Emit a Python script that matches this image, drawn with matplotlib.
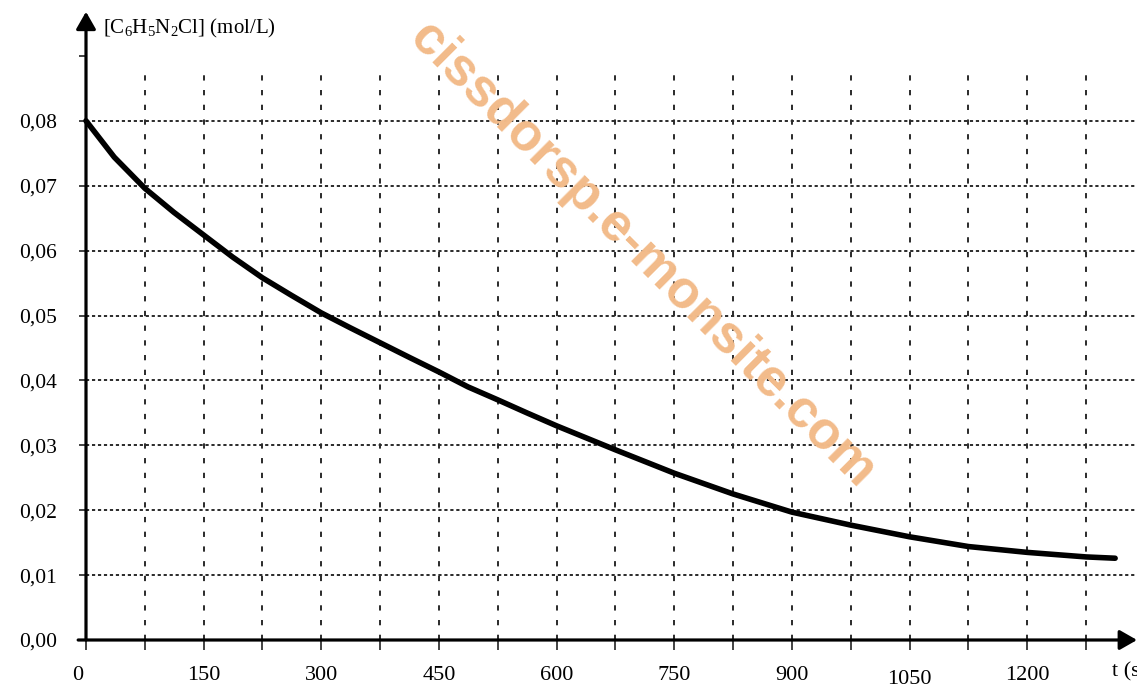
import matplotlib
matplotlib.use('Agg')
import matplotlib.pyplot as plt
from matplotlib.transforms import ScaledTranslation

plt.rcParams['font.family'] = ['Liberation Serif', 'DejaVu Serif']
plt.rcParams['mathtext.fontset'] = 'custom'
plt.rcParams['mathtext.rm'] = 'Liberation Serif'
plt.rcParams['mathtext.it'] = 'Liberation Serif:italic'
plt.rcParams['lines.scale_dashes'] = False

# ---- data ----
time_s = [0, 36, 75, 112, 150, 187, 225, 262, 300, 337, 375, 413, 450, 487,
          525, 562, 600, 675, 750, 825, 900, 975, 1050, 1125, 1200, 1275, 1312]
conc = [0.0800, 0.0744, 0.0696, 0.0659, 0.0624, 0.0590, 0.0558, 0.0531,
        0.0504, 0.0481, 0.0458, 0.0435, 0.0413, 0.0390, 0.0370, 0.0350,
        0.0330, 0.0293, 0.0257, 0.0225, 0.0197, 0.0177, 0.0159, 0.0144,
        0.0135, 0.0128, 0.0126]

x_ticks = [0, 75, 150, 225, 300, 375, 450, 525, 600, 675, 750, 825, 900,
           975, 1050, 1125, 1200, 1275]
x_tick_labels = ['0', '', '150', '', '300', '', '450', '', '600', '', '750', '',
                 '900', '', '1050', '', '1200', '']
x_grid = [75, 150, 225, 300, 375, 450, 525, 600, 675, 750, 825, 900,
          975, 1050, 1125, 1200, 1275]
y_ticks = [0.00, 0.01, 0.02, 0.03, 0.04, 0.05, 0.06, 0.07, 0.08, 0.09]
y_tick_labels = ['0,00', '0,01', '0,02', '0,03', '0,04', '0,05', '0,06',
                 '0,07', '0,08', '']
y_grid = [0.01, 0.02, 0.03, 0.04, 0.05, 0.06, 0.07, 0.08]

y_title = '[C$_6$H$_5$N$_2$Cl] (mol/L)'
x_title = 't (s)'
watermark = 'cissdorsp.e-monsite.com'

# ---- figure ----
W, H = 1137, 689
fig = plt.figure(figsize=(W / 100, H / 100), dpi=100)
fig.patch.set_facecolor('white')
x0, y0 = 86, 49
px_per_s = 0.7844
px_per_c = 6490
ax = fig.add_axes([x0 / W, y0 / H, (W - x0) / W, (H - y0) / H])
xmax = (W - x0) / px_per_s
ymax = (H - y0) / px_per_c
ax.set_xlim(0, xmax)
ax.set_ylim(0, ymax)
for s in ax.spines.values():
    s.set_visible(False)
ax.patch.set_alpha(0)

grid_col = '#2a2a2a'
ax.hlines(y_grid, 0, xmax, colors=grid_col, linestyles=[(0, (2.3, 2.0))],
          lw=1.4, clip_on=False, zorder=1)
ax.vlines(x_grid, 0, 0.0878, colors=grid_col, linestyles=[(0, (3.8, 6.8))],
          lw=1.4, clip_on=False, zorder=1)

ax.set_xticks(x_ticks)
ax.set_xticklabels(x_tick_labels)
ax.set_yticks(y_ticks)
ax.set_yticklabels(y_tick_labels)
ax.tick_params(axis='x', direction='out', length=7, width=1.2, pad=12,
               labelsize=16, color='#222222')
ax.tick_params(axis='y', direction='out', length=5, width=1.2, pad=16,
               labelsize=15.5, color='#222222')
for lbl in ax.get_xticklabels():
    if lbl.get_text() == '1050':
        lbl.set_transform(lbl.get_transform() +
                          ScaledTranslation(0, -4 / 100, fig.dpi_scale_trans))
    if lbl.get_text() == '0':
        lbl.set_transform(lbl.get_transform() +
                          ScaledTranslation(-8 / 100, 0, fig.dpi_scale_trans))

# axes with arrows
arrow = dict(arrowstyle='-|>,head_length=0.7,head_width=0.4', lw=2.3,
             color='black', shrinkA=0, shrinkB=0, mutation_scale=15)
ax.annotate('', xy=(0, 0.0968), xytext=(0, 0), arrowprops=arrow,
            annotation_clip=False)
ax.annotate('', xy=(xmax, 0), xytext=(-10, 0), arrowprops=arrow,
            annotation_clip=False)

# curve
ax.plot(time_s, conc, color='black', lw=4, solid_capstyle='round',
        solid_joinstyle='round', zorder=3, clip_on=False)

fig.text(103 / W, 1 - 28 / H, y_title, ha='left', va='center', fontsize=15)
fig.text(1112 / W, 1 - 672 / H, x_title, ha='left', va='center', fontsize=16)

fig.text(642 / W, 1 - 255 / H, watermark, rotation=-45, rotation_mode='anchor',
         ha='center', va='center', fontsize=38, family='Liberation Sans',
         weight='bold', color='#F2BB8A', zorder=10)

fig.savefig('out.png', dpi=100, facecolor='white')
